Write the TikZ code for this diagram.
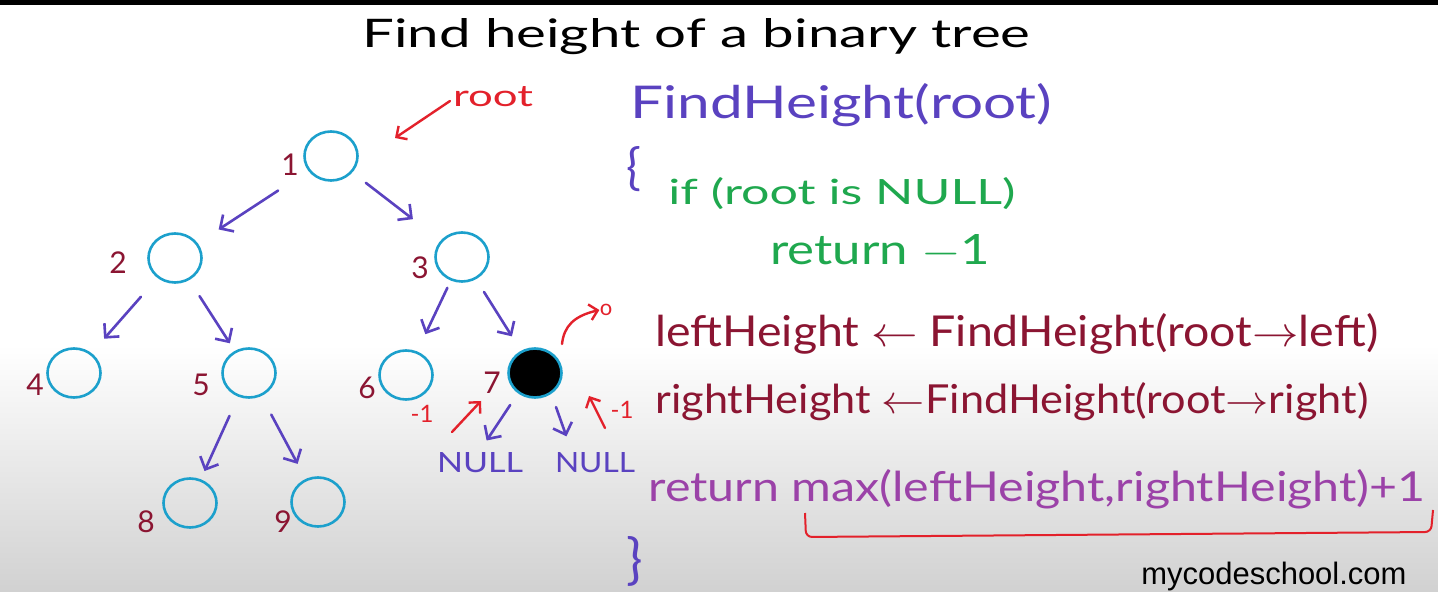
\documentclass[tikz,border=0pt]{standalone}
\usepackage{fontspec}
\setmainfont{Lato}
\newfontfamily\wmfont{Liberation Sans}
\usetikzlibrary{arrows.meta,shapes.geometric}
\definecolor{cyanc}{HTML}{1CA0CC}
\definecolor{treeblue}{HTML}{5A42C0}
\definecolor{codegreen}{HTML}{1FA84E}
\definecolor{darkred}{HTML}{8B1532}
\definecolor{retpurple}{HTML}{9B42A8}
\definecolor{annred}{HTML}{E3212B}
\newcommand{\fitw}[2]{\resizebox{#1}{!}{#2}}
\newcommand{\fitwh}[3]{\resizebox{#1}{#2}{#3}}
\tikzset{
  tn/.style={ellipse, draw=cyanc, line width=1.3pt, minimum width=26.5pt, minimum height=24.5pt, inner sep=0pt},
  tarr/.style={draw=treeblue, line width=1.3pt, line cap=round, -{Straight Barb[length=5pt,width=10pt]}},
  rarr/.style={draw=annred, line width=1.2pt, line cap=round, -{Straight Barb[length=4pt,width=8pt]}},
  numlbl/.style={text=darkred, font=\fontsize{15}{15}\selectfont, inner sep=0pt},
  nulllbl/.style={text=treeblue, inner sep=1pt},
  txt/.style={inner sep=0pt, anchor=base west}
}
\begin{document}
\begin{tikzpicture}[x=0.5pt,y=-0.5pt]
\useasboundingbox (0,0) rectangle (1438,592);
\fill[white] (0,0) rectangle (1438,592);
\shade[top color=white, bottom color=black!18] (0,592) rectangle (1438,345);
\fill[black] (0,0) rectangle (1438,5);

% title
\node[txt] (title) at (362,48) {\fitwh{334pt}{14.5pt}{Find height of a binary tree}};

% tree nodes
\node[tn] (n1) at (331,156) {};
\node[tn] (n2) at (175,258) {};
\node[tn] (n3) at (462,257) {};
\node[tn] (n4) at (74,373) {};
\node[tn] (n5) at (249,373) {};
\node[tn] (n6) at (406,375) {};
\node[tn, fill=black] (n7) at (535,373) {};
\node[tn] (n8) at (190,503) {};
\node[tn] (n9) at (318,502) {};

% number labels
\node[numlbl] (l1) at (290,165) {1};
\node[numlbl] (l2) at (118,263) {2};
\node[numlbl] (l3) at (420,268) {3};
\node[numlbl] (l4) at (35,385) {4};
\node[numlbl] (l5) at (201,385) {5};
\node[numlbl] (l6) at (367,388) {6};
\node[numlbl] (l7) at (492,383) {7};
\node[numlbl] (l8) at (146,522) {8};
\node[numlbl] (l9) at (283,522) {9};

% NULL labels
\node[nulllbl] (null1) at (480,463) {\fitwh{43pt}{10pt}{NULL}};
\node[nulllbl] (null2) at (595,463) {\fitwh{40pt}{10pt}{NULL}};

% tree edges
\draw[tarr, shorten <=18pt, shorten >=12.5pt] (n1) -- (n2);
\draw[tarr, shorten <=8.5pt, shorten >=17.5pt] (n1) -- (n3);
\draw[tarr, shorten <=12.5pt, shorten >=9.5pt] (n2) -- (n4);
\draw[tarr, shorten <=9.5pt, shorten >=4.5pt] (n2) -- (n5);
\draw[tarr, shorten <=4pt, shorten >=9.5pt] (n3) -- (n6);
\draw[tarr, shorten <=7.5pt, shorten >=8.5pt] (n3) -- (n7);
\draw[tarr, shorten <=10.5pt, shorten >=4.5pt] (n5) -- (n8);
\draw[tarr, shorten <=10.5pt, shorten >=8.5pt] (n5) -- (n9);
\draw[tarr, shorten <=7pt, shorten >=6pt] (n7.-130) -- (null1.north);
\draw[tarr, shorten <=7pt, shorten >=7.5pt] (n7.-52) -- (null2.152);

% red annotations
\node[text=annred, inner sep=0pt] (rootlbl) at (493,97) {\fitwh{40pt}{10pt}{root}};
\coordinate (ra) at (450,101);
\coordinate (rb) at (395,138);
\draw[rarr] (ra) -- (rb);

\node[text=annred, inner sep=0pt, font=\fontsize{11}{11}\selectfont] (zlbl) at (606,310) {o};
\coordinate (za) at (562,344);
\draw[rarr] (za) .. controls (564,326) and (574,316) .. (zlbl.west);

\node[text=annred, inner sep=0pt, font=\fontsize{12}{12}\selectfont] (m1a) at (422,414) {-1};
\coordinate (ma) at (452,432);
\coordinate (mb) at (481,401);
\draw[rarr] (ma) -- (mb);

\node[text=annred, inner sep=0pt, font=\fontsize{12}{12}\selectfont] (m1b) at (622,410) {-1};
\coordinate (mc) at (605,428);
\coordinate (md) at (589,396);
\draw[rarr] (mc) -- (md);

% code
\node[txt, text=treeblue] (fh) at (630,119) {\fitwh{211pt}{17.5pt}{FindHeight(root)}};
\node[txt, text=treeblue] (ob) at (626,185) {\resizebox{!}{19pt}{\{}};
\node[txt, text=codegreen] (ifl) at (668,205) {\fitwh{173.5pt}{13.5pt}{if (root is NULL)}};
\node[txt, text=codegreen] (ret1) at (770,265) {\fitwh{110pt}{15pt}{return $-$1}};
\node[txt, text=darkred] (lh) at (655,347) {\fitwh{361.5pt}{16.5pt}{leftHeight $\leftarrow$ FindHeight(root$\rightarrow$left)}};
\node[txt, text=darkred] (rh) at (655,414) {\fitwh{356.5pt}{15.5pt}{rightHeight $\leftarrow$FindHeight(root$\rightarrow$right)}};
\node[txt, text=retpurple] (ret2) at (648,502) {\fitwh{388.5pt}{16pt}{return max(leftHeight,rightHeight)+1}};
\node[txt, text=treeblue] (cb) at (626,578) {\resizebox{!}{21pt}{\}}};

% underline bracket
\coordinate (u1) at (805,513);
\coordinate (u2) at (806,537);
\coordinate (u3) at (1431,532);
\coordinate (u4) at (1433,510);
\draw[annred, line width=1pt, rounded corners=3pt] (u1) -- (u2) -- (u3) -- (u4);

% watermark
\node[txt] (wm) at (1141,584) {\fitw{132.5pt}{\wmfont mycodeschool.com}};
\end{tikzpicture}
\end{document}
